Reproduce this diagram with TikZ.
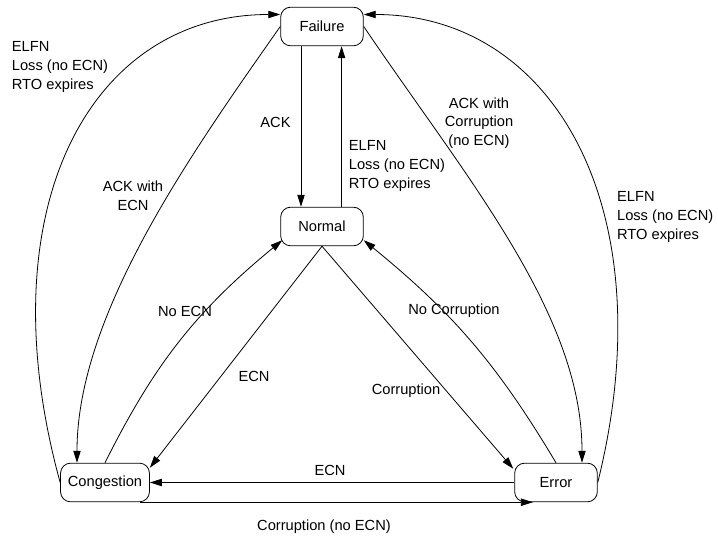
\documentclass[tikz,border=0pt]{standalone}
\usepackage{fontspec}
\setmainfont{Liberation Sans}
\usetikzlibrary{arrows.meta,calc}

\tikzset{
  state/.style={draw, rounded corners=7.5pt, minimum width=62pt, minimum height=29pt, inner xsep=5.5pt},
  trans/.style={-{Triangle[length=9pt,width=5.5pt]}},
  lbl/.style={inner sep=0pt, align=left},
}

\begin{document}
\begin{tikzpicture}[x=0.75pt, y=0.75pt, line width=0.6pt, font=\fontsize{11}{13.9}\selectfont]
      \useasboundingbox (0,0) rectangle (718,539);
      \draw
        (322,512.5) node[state] (failure){Failure}
        (322,312.5) node[state] (normal){Normal}
        (105,56.5) node[state] (congestion){Congestion}
        (556,56.5) node[state] (error){Error};
      \node[lbl, anchor=west] (elfnleft) at (11.5,472) {ELFN\\Loss (no ECN)\\RTO expires};
      \node[lbl, anchor=west] (elfnmid) at (348.5,373) {ELFN\\Loss (no ECN)\\RTO expires};
      \node[lbl, anchor=west] (elfnright) at (616.7,322) {ELFN\\Loss (no ECN)\\RTO expires};
      \node[lbl, anchor=east] (ack) at (291,417) {ACK};
      \node[lbl, align=center] (ackecn) at (133,343) {ACK with\\ECN};
      \node[lbl, align=center] (ackcorr) at (479,416) {ACK with\\Corruption\\(no ECN)};
      \node[lbl] (noecn) at (185,228) {No ECN};
      \node[lbl] (nocorr) at (454,228) {No Corruption};
      \node[lbl] (ecndiag) at (254,163) {ECN};
      \node[lbl] (corr) at (406,148) {Corruption};
      \node[lbl] (ecnhoriz) at (330,69) {ECN};
      \node[lbl] (corrnoecn) at (324,12) {Corruption (no ECN)};
      \begin{scope}[trans]
        \draw ([xshift=-15.75pt]failure.south) -- ([xshift=-15.75pt]normal.north);
        \draw ([xshift=14.7pt]normal.north) -- ([xshift=14.7pt]failure.south);
        \draw (failure.west) .. controls +(-125:150) and +(0,150) .. ([xshift=-21pt]congestion.north);
        \draw (failure.east) .. controls +(-56:180) and +(0,150) .. ([xshift=19.5pt]error.north);
        \draw (congestion.west) .. controls +(-75,273) and +(-191,0) .. ([yshift=9pt]failure.west);
        \draw (error.east) .. controls +(68,273) and +(190,0) .. ([yshift=9pt]failure.east);
        \draw (congestion.north) to[bend left=12] ($(normal.south west)+(2,6)$);
        \draw (error.north) to[bend right=10] ($(normal.south east)+(0,6)$);
        \draw (normal.south) -- ($(congestion.north east)+(0,-5)$);
        \draw (normal.south) -- ($(error.north west)+(-1,-6)$);
        \draw (error.west) -- (congestion.east);
        \draw ([xshift=-7.5pt]congestion.south east) -- ([xshift=14pt]error.south west);
      \end{scope}
    \end{tikzpicture}
\end{document}
